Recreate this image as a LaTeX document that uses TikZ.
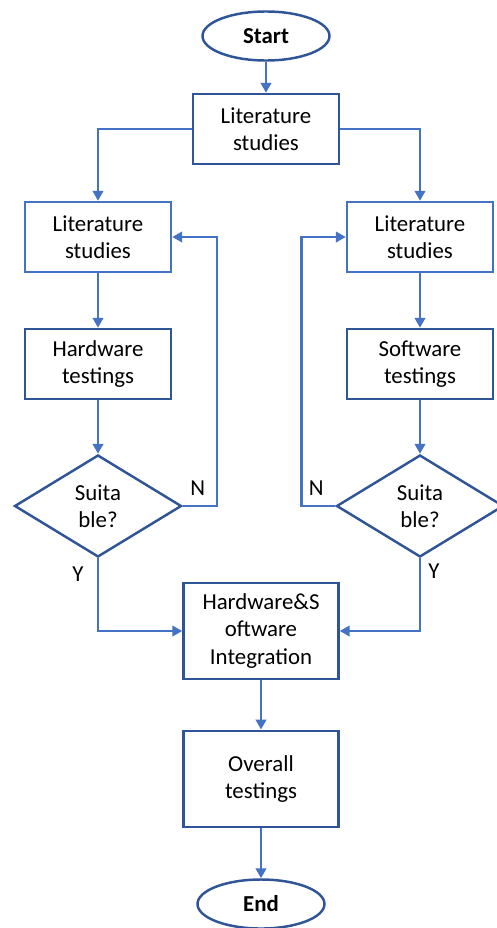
\documentclass[tikz,border=0pt]{standalone}
\usepackage{fontspec}
\setmainfont{Carlito}
\usetikzlibrary{shapes.geometric,arrows.meta,positioning}
\definecolor{linkblue}{HTML}{4472C4}
\definecolor{boxblue}{HTML}{2F5597}

\begin{document}
\begin{tikzpicture}[%
    >={Triangle[length=2mm,width=2.1mm]}, % filled arrow heads
    node distance=20mm and 30mm,          % Global setup of box spacing
    ]
% -------------------------------------------------
% Box styles; <on grid> keeps the centres where we ask for them
\tikzset{
  base/.style={draw=boxblue, line width=1.4pt, on grid, align=center,
               font=\fontsize{13}{15.5}\selectfont},
  term/.style={base, ellipse, minimum width=25.4mm, minimum height=9.8mm,
               inner sep=0pt, font=\fontsize{13}{15.5}\selectfont\bfseries},
  proc/.style={base, rectangle, minimum width=29.2mm, minimum height=14mm},
  lite/.style={proc, draw=linkblue},
  big/.style={proc, minimum width=31mm, minimum height=19.3mm},
  ask/.style={base, diamond, minimum width=33.4mm, minimum height=20.4mm,
              inner sep=0pt},
  lbl/.style={font=\fontsize{13}{15.5}\selectfont, inner sep=0pt},
  % Connector line style
  link/.style={->, draw=linkblue, line width=1.4pt}
}
\useasboundingbox (0,0) rectangle (99.4mm,-185.6mm);
% -------------------------------------------------
% Start by placing the nodes
\node [term] (start) at (53.2mm,-7.2mm) {Start};
\node [proc, below = 18.6mm of start] (lit) {Literature\\studies};
\node [lite, below left = 21.6mm and 33.6mm of lit] (litL) {Literature\\studies};
\node [lite, below right = 21.6mm and 30.8mm of lit] (litR) {Literature\\studies};
\node [proc, below = 25.4mm of litL] (hw) {Hardware\\testings};
\node [proc, below = 25.4mm of litR] (sw) {Software\\testings};
\node [ask, below = 28.4mm of hw] (askL) {Suita\\ble?};
\node [ask, below = 28.4mm of sw] (askR) {Suita\\ble?};
\node [big, below right = 25mm and 32.6mm of askL] (integ) {Hardware\&S\\oftware\\Integration};
\node [big, below = 29.6mm of integ] (overall) {Overall\\testings};
\node [term, below = 25mm of overall] (end) {End};

% branch labels
\node [lbl] (nL) at ([xshift=3mm,yshift=3.6mm]askL.east) {N};
\node [lbl] (nR) at ([xshift=-3.8mm,yshift=3.6mm]askR.west) {N};
\node [lbl] (yL) at ([xshift=-4mm,yshift=-3.2mm]askL.south) {Y};
\node [lbl] (yR) at ([xshift=2.8mm,yshift=-2.6mm]askR.south) {Y};

\draw[link] (start) -- (lit);
\draw[link] (lit.west) -| (litL.north);   % split to hardware side
\draw[link] (lit.east) -| (litR.north);   % split to software side
\draw[link] (litL) -- (hw);
\draw[link] (litR) -- (sw);
\draw[link] (hw) -- (askL);
\draw[link] (sw) -- (askR);
\draw[link] (askL.east) -- ++(6.8mm,0) |- (litL.east);  % N, try again
\draw[link] (askR.west) -- ++(-6.8mm,0) |- (litR.west); % N, try again
\draw[link] (askL.south) |- (integ.west);  % Y
\draw[link] (askR.south) |- (integ.east);  % Y
\draw[link] (integ) -- (overall);
\draw[link] (overall) -- (end);

% -------------------------------------------------
\end{tikzpicture}
\end{document}
